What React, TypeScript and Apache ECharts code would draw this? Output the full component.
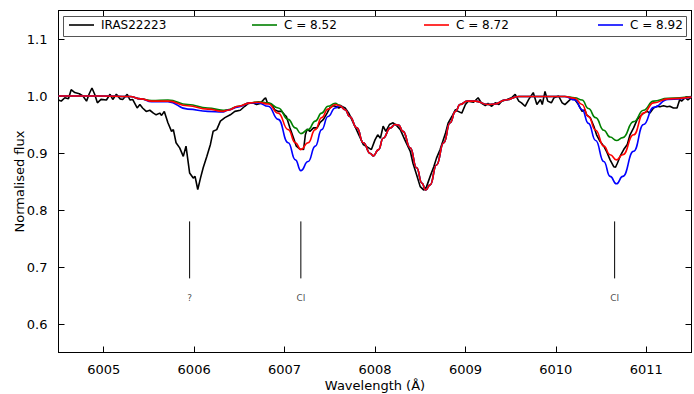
import React, { useEffect, useRef } from "react";
import * as echarts from "echarts";

const FONT = "DejaVu Sans";

// Observed spectrum (IRAS22223)
const obsWl = [
  6004.50, 6004.53, 6004.57, 6004.61, 6004.64, 6004.68, 6004.73, 6004.77, 6004.81, 6004.84,
  6004.87, 6004.90, 6004.93, 6004.97, 6005.03, 6005.07, 6005.10, 6005.14, 6005.18, 6005.21,
  6005.26, 6005.29, 6005.32, 6005.37, 6005.40, 6005.43, 6005.47, 6005.51, 6005.55, 6005.58,
  6005.62, 6005.64, 6005.67, 6005.71, 6005.75, 6005.77, 6005.80, 6005.84, 6005.88, 6005.91,
  6005.95, 6005.99, 6006.01, 6006.04, 6006.07, 6006.10, 6006.14, 6006.18, 6006.21, 6006.25,
  6006.29, 6006.34, 6006.40, 6006.45, 6006.51, 6006.56, 6006.60, 6006.65, 6006.69, 6006.73,
  6006.77, 6006.79, 6006.81, 6006.86, 6006.89, 6006.93, 6006.97, 6007.00, 6007.02, 6007.06,
  6007.10, 6007.13, 6007.17, 6007.21, 6007.23, 6007.25, 6007.28, 6007.32, 6007.36, 6007.39,
  6007.43, 6007.47, 6007.50, 6007.54, 6007.56, 6007.60, 6007.63, 6007.67, 6007.71, 6007.76,
  6007.82, 6007.87, 6007.93, 6007.96, 6008.00, 6008.03, 6008.06, 6008.09, 6008.12, 6008.16,
  6008.20, 6008.24, 6008.28, 6008.33, 6008.39, 6008.42, 6008.46, 6008.50, 6008.54, 6008.57,
  6008.61, 6008.65, 6008.68, 6008.72, 6008.78, 6008.81, 6008.85, 6008.89, 6008.92, 6008.96,
  6009.00, 6009.03, 6009.09, 6009.14, 6009.18, 6009.22, 6009.25, 6009.29, 6009.33, 6009.37,
  6009.40, 6009.46, 6009.51, 6009.55, 6009.59, 6009.62, 6009.66, 6009.70, 6009.75, 6009.79,
  6009.83, 6009.85, 6009.88, 6009.91, 6009.95, 6009.98, 6010.03, 6010.07, 6010.10, 6010.14,
  6010.18, 6010.21, 6010.25, 6010.29, 6010.32, 6010.34, 6010.38, 6010.42, 6010.45, 6010.49,
  6010.53, 6010.56, 6010.60, 6010.64, 6010.66, 6010.68, 6010.71, 6010.75, 6010.79, 6010.82,
  6010.86, 6010.90, 6010.93, 6010.97, 6011.01, 6011.04, 6011.08, 6011.12, 6011.15, 6011.19,
  6011.23, 6011.26, 6011.30, 6011.34, 6011.37, 6011.39, 6011.43, 6011.46, 6011.49,
];
const obsFlux = [
  0.993, 0.991, 0.997, 0.995, 1.011, 1.006, 1.004, 1.000, 0.991, 1.004,
  1.014, 1.003, 0.988, 0.994, 0.993, 1.003, 0.994, 1.003, 0.995, 0.994,
  1.003, 0.993, 0.994, 0.979, 0.985, 0.979, 0.973, 0.975, 0.970, 0.967,
  0.970, 0.966, 0.973, 0.953, 0.938, 0.941, 0.918, 0.909, 0.894, 0.912,
  0.865, 0.856, 0.859, 0.836, 0.856, 0.874, 0.894, 0.915, 0.938, 0.941,
  0.956, 0.962, 0.967, 0.973, 0.975, 0.982, 0.987, 0.988, 0.985, 0.987,
  0.994, 0.997, 0.988, 0.985, 0.976, 0.973, 0.973, 0.967, 0.964, 0.944,
  0.926, 0.912, 0.907, 0.906, 0.932, 0.942, 0.938, 0.944, 0.944, 0.953,
  0.959, 0.970, 0.979, 0.983, 0.982, 0.979, 0.982, 0.979, 0.970, 0.953,
  0.932, 0.915, 0.909, 0.906, 0.923, 0.932, 0.926, 0.947, 0.938, 0.950,
  0.953, 0.948, 0.941, 0.923, 0.903, 0.882, 0.862, 0.841, 0.835, 0.841,
  0.859, 0.876, 0.891, 0.906, 0.935, 0.953, 0.964, 0.976, 0.973, 0.970,
  0.985, 0.991, 0.989, 0.997, 0.987, 0.983, 0.987, 0.982, 0.988, 0.985,
  0.991, 0.994, 0.997, 1.003, 0.991, 0.988, 0.982, 0.994, 1.006, 0.985,
  0.994, 0.985, 1.008, 0.991, 0.988, 0.997, 1.000, 0.988, 0.985, 0.991,
  0.997, 0.994, 0.985, 0.973, 0.976, 0.967, 0.962, 0.947, 0.932, 0.920,
  0.912, 0.903, 0.888, 0.876, 0.875, 0.882, 0.894, 0.906, 0.915, 0.932,
  0.944, 0.959, 0.964, 0.970, 0.973, 0.970, 0.979, 0.982, 0.981, 0.983,
  0.981, 0.982, 0.979, 0.979, 0.994, 0.991, 0.997, 0.993, 0.997,
];

// Synthetic spectra
const modelWl = [
  6004.50, 6004.96, 6005.29, 6005.41, 6005.53, 6005.71, 6005.93, 6006.15, 6006.32, 6006.37,
  6006.49, 6006.62, 6006.71, 6006.82, 6006.93, 6007.04, 6007.12, 6007.18, 6007.26, 6007.34,
  6007.41, 6007.48, 6007.56, 6007.61, 6007.67, 6007.72, 6007.80, 6007.87, 6007.95, 6007.98,
  6008.04, 6008.09, 6008.17, 6008.22, 6008.26, 6008.31, 6008.39, 6008.46, 6008.52, 6008.56,
  6008.61, 6008.68, 6008.76, 6008.83, 6008.89, 6008.94, 6009.02, 6009.11, 6009.25, 6009.33,
  6009.44, 6009.59, 6010.10, 6010.21, 6010.29, 6010.36, 6010.44, 6010.53, 6010.60, 6010.67,
  6010.74, 6010.86, 6010.97, 6011.08, 6011.24, 6011.50,
];
const modelC852 = [
  1.000, 1.000, 0.999, 0.995, 0.992, 0.993, 0.985, 0.979, 0.975, 0.976,
  0.982, 0.988, 0.990, 0.988, 0.979, 0.959, 0.944, 0.934, 0.941, 0.956,
  0.970, 0.982, 0.987, 0.984, 0.976, 0.964, 0.944, 0.918, 0.899, 0.895,
  0.906, 0.926, 0.944, 0.950, 0.949, 0.938, 0.909, 0.874, 0.847, 0.835,
  0.844, 0.879, 0.918, 0.953, 0.973, 0.985, 0.991, 0.991, 0.985, 0.986,
  0.993, 0.999, 0.999, 0.997, 0.993, 0.978, 0.962, 0.940, 0.928, 0.922,
  0.927, 0.955, 0.975, 0.991, 0.996, 0.999,
];
const modelC872 = [
  1.000, 1.000, 0.999, 0.995, 0.991, 0.991, 0.983, 0.977, 0.973, 0.975,
  0.982, 0.988, 0.989, 0.986, 0.970, 0.941, 0.918, 0.906, 0.918, 0.941,
  0.962, 0.977, 0.985, 0.983, 0.976, 0.964, 0.944, 0.918, 0.899, 0.895,
  0.906, 0.926, 0.944, 0.950, 0.949, 0.938, 0.909, 0.874, 0.847, 0.835,
  0.844, 0.879, 0.918, 0.953, 0.973, 0.985, 0.991, 0.991, 0.985, 0.986,
  0.993, 0.999, 0.999, 0.996, 0.985, 0.964, 0.940, 0.912, 0.897, 0.888,
  0.897, 0.932, 0.970, 0.988, 0.995, 0.998,
];
const modelC892 = [
  1.000, 1.000, 0.999, 0.995, 0.990, 0.990, 0.977, 0.973, 0.972, 0.975,
  0.981, 0.988, 0.988, 0.982, 0.959, 0.918, 0.888, 0.869, 0.885, 0.912,
  0.941, 0.964, 0.979, 0.983, 0.976, 0.964, 0.944, 0.918, 0.899, 0.895,
  0.906, 0.926, 0.944, 0.950, 0.949, 0.938, 0.909, 0.874, 0.847, 0.835,
  0.844, 0.879, 0.918, 0.953, 0.973, 0.985, 0.991, 0.991, 0.985, 0.986,
  0.993, 0.999, 0.999, 0.993, 0.976, 0.952, 0.922, 0.885, 0.859, 0.846,
  0.859, 0.903, 0.950, 0.980, 0.994, 0.998,
];

// Line identifications
const markWl = [6005.95, 6007.18, 6010.65];
const markLabels = ["?", "CI", "CI"];
const markTop = 0.78;
const markBottom = 0.68;
const markLabelY = 0.645;

const seriesNames = ["IRAS22223", "C = 8.52", "C = 8.72", "C = 8.92"];
const seriesColors = ["#000000", "#008000", "#ff0000", "#0000ff"];

const zip = (xs: number[], ys: number[]) => xs.map((x, i) => [x, ys[i]]);

export default function App() {
  const ref = useRef<HTMLDivElement>(null);
  useEffect(() => {
    if (!ref.current) return;
    const chart = echarts.init(ref.current, undefined, { renderer: "svg" });
    const axisCommon = {
      type: "value" as const,
      axisLine: { show: true, onZero: false, lineStyle: { color: "#000", width: 1 } },
      axisTick: { show: true, inside: true, length: 6, lineStyle: { color: "#000", width: 1 } },
      splitLine: { show: false },
    };
    const xBase = { ...axisCommon, min: 6004.5, max: 6011.5, splitNumber: 7 };
    const yBase = { ...axisCommon, min: 0.55, max: 1.15, splitNumber: 6 };
    const legendLefts = [69, 252, 424, 598];

    const series: any[] = [
      {
        name: seriesNames[0], type: "line", data: zip(obsWl, obsFlux), symbol: "none",
        lineStyle: { color: seriesColors[0], width: 1.6 }, itemStyle: { color: seriesColors[0] }, z: 2,
      },
      {
        name: seriesNames[1], type: "line", data: zip(modelWl, modelC852), symbol: "none",
        smooth: 0.5, smoothMonotone: "x",
        lineStyle: { color: seriesColors[1], width: 1.6 }, itemStyle: { color: seriesColors[1] }, z: 3,
      },
      {
        name: seriesNames[3], type: "line", data: zip(modelWl, modelC892), symbol: "none",
        smooth: 0.5, smoothMonotone: "x",
        lineStyle: { color: seriesColors[3], width: 1.6 }, itemStyle: { color: seriesColors[3] }, z: 3,
      },
      {
        name: seriesNames[2], type: "line", data: zip(modelWl, modelC872), symbol: "none",
        smooth: 0.5, smoothMonotone: "x",
        lineStyle: { color: seriesColors[2], width: 1.6 }, itemStyle: { color: seriesColors[2] }, z: 4,
      },
    ];
    markWl.forEach((w, i) => {
      series.push({
        name: "mark" + i, type: "line", symbol: "none",
        data: [[w, markTop], [w, markBottom]],
        lineStyle: { color: "#000", width: 1 }, z: 2, silent: true,
      });
    });
    series.push({
      name: "markLabels", type: "scatter", symbolSize: 1,
      itemStyle: { color: "rgba(0,0,0,0)" },
      data: markWl.map((w, i) => ({ value: [w, markLabelY], name: markLabels[i] })),
      label: {
        show: true, position: "inside", formatter: "{b}", color: "#222",
        fontSize: 9, fontFamily: FONT,
      },
      silent: true,
    });

    chart.setOption({
      animation: false,
      textStyle: { fontFamily: FONT },
      grid: {
        left: 58.5, right: 2.5, top: 10.5, bottom: 41.5,
        containLabel: false, outerBoundsMode: "none",
      },
      legend: seriesNames.map((n, i) => ({
        data: [n], left: legendLefts[i], top: 19, padding: 0,
        itemWidth: 25, itemHeight: 1.6, icon: "rect",
        textStyle: { fontFamily: FONT, fontSize: 12, color: "#000", padding: [0, 0, 0, 2] },
        selectedMode: false,
      })),
      graphic: [
        {
          type: "rect", z: 1,
          shape: { x: 63.5, y: 16.5, width: 623, height: 20 },
          style: { fill: "#fff", stroke: "#555", lineWidth: 1 },
        },
      ],
      xAxis: [
        {
          ...xBase, position: "bottom",
          axisLabel: {
            color: "#000", fontSize: 13, fontFamily: FONT, margin: 10,
            showMinLabel: false, showMaxLabel: false,
            formatter: (v: number) => String(Math.round(v)),
          },
          name: "Wavelength (Å)", nameLocation: "middle", nameGap: 26,
          nameMoveOverlap: false,
          nameTextStyle: { color: "#000", fontSize: 13, fontFamily: FONT },
        },
        { ...xBase, position: "top", axisLabel: { show: false } },
      ],
      yAxis: [
        {
          ...yBase, position: "left",
          axisLabel: {
            color: "#000", fontSize: 13, fontFamily: FONT, margin: 11,
            showMinLabel: false, showMaxLabel: false,
            formatter: (v: number) => v.toFixed(1),
          },
          name: "Normalised flux", nameLocation: "middle", nameGap: 33,
          nameMoveOverlap: false,
          nameTextStyle: { color: "#000", fontSize: 13, fontFamily: FONT },
        },
        { ...yBase, position: "right", axisLabel: { show: false } },
      ],
      series,
    });
    return () => chart.dispose();
  }, []);
  return (
    <div
      ref={ref}
      style={{ position: "fixed", left: 0, top: 0, width: 694, height: 394, background: "#fff" }}
    />
  );
}
